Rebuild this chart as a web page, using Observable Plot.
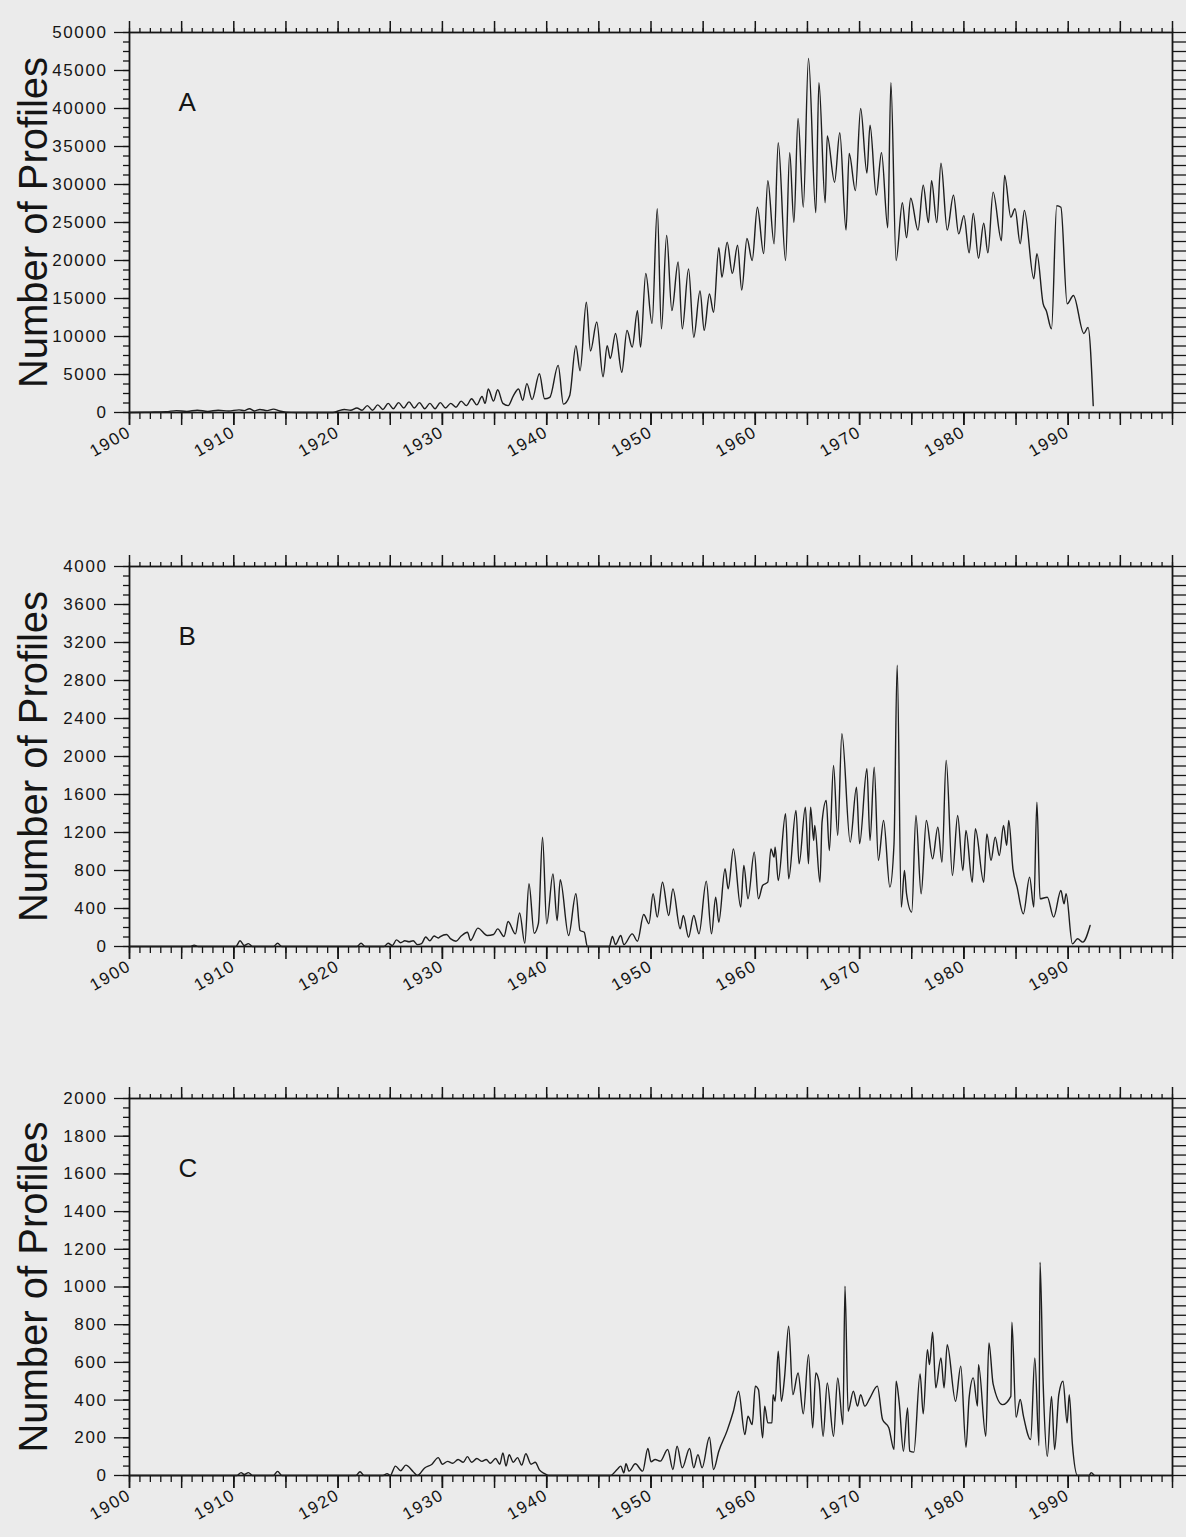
<!DOCTYPE html>
<html>
<head>
<meta charset="utf-8">
<script src="https://cdn.jsdelivr.net/npm/d3@7"></script>
<script src="https://cdn.jsdelivr.net/npm/@observablehq/plot@0.6"></script>
<style>
  html, body { margin: 0; padding: 0; background: #ebebeb; }
  #chart { width: 1186px; }
  #chart svg { display: block; }
  [aria-label$="tick label"] { letter-spacing: 1.6px; }
</style>
</head>
<body>
<div id="chart"></div>
<script>
// ---------- Panel A ----------
const yearsA = [1900,1902,1903.5,1904.5,1905.5,1906.5,1907.5,1908.5,1909.5,1910.5,1911,1911.5,1912,1912.5,1913.2,1913.8,1914.4,1915,1916,1919.5,1920,1920.6,1921.2,1921.8,1922.3,1922.8,1923.3,1923.8,1924.3,1924.8,1925.3,1925.8,1926.3,1926.8,1927.3,1927.8,1928.3,1928.8,1929.3,1929.8,1930.3,1930.8,1931.3,1931.8,1932.3,1932.8,1933.3,1933.8,1934.1,1934.4,1934.9,1935.3,1935.8,1936.3,1936.8,1937.3,1937.7,1938.1,1938.6,1939.3,1939.8,1940.3,1941.1,1941.6,1942.2,1942.8,1943.2,1943.8,1944.2,1944.8,1945.4,1945.8,1946.1,1946.6,1947.2,1947.7,1948.2,1948.7,1949.0,1949.5,1950.1,1950.6,1951.0,1951.5,1952.0,1952.6,1953.0,1953.6,1954.1,1954.7,1955.1,1955.6,1956.0,1956.5,1956.8,1957.3,1957.8,1958.3,1958.7,1959.2,1959.7,1960.2,1960.8,1961.2,1961.8,1962.2,1962.9,1963.3,1963.7,1964.1,1964.6,1965.1,1965.8,1966.1,1966.7,1966.9,1967.6,1968.1,1968.7,1969.0,1969.6,1970.1,1970.7,1971.0,1971.6,1972.1,1972.7,1973.0,1973.5,1974.1,1974.5,1974.9,1975.6,1976.1,1976.6,1976.9,1977.4,1977.8,1978.4,1979.0,1979.5,1980.0,1980.5,1980.9,1981.4,1981.9,1982.3,1982.8,1983.6,1983.9,1984.5,1984.9,1985.4,1985.8,1986.7,1987.0,1987.6,1987.9,1988.4,1988.9,1989.3,1989.9,1990.5,1991.5,1991.9,1992.4];
const countsA = [0,50,100,250,150,300,150,300,200,350,250,500,200,400,250,450,200,50,0,0,200,400,300,600,300,900,300,1000,400,1200,500,1300,600,1400,600,1300,500,1200,500,1300,600,1200,700,1500,900,1800,1000,2100,1200,3100,1500,3000,1200,900,2200,3100,1600,3800,1700,5100,1800,2000,6200,1100,2200,8800,5500,14500,8100,11900,4700,8800,7100,10400,5300,10800,8600,13400,8600,18300,11700,26800,11000,23300,13400,19800,11000,18900,9900,16000,10800,15600,13200,21700,17800,22400,18300,22000,16100,22900,20000,27000,20900,30500,22200,35500,20000,34200,25000,38700,27000,46600,26300,43400,27600,36400,30300,36800,24000,34100,29200,40000,31500,37800,28600,34200,24300,43400,20000,27600,23000,28200,24000,29900,25000,30500,25000,32800,24000,28600,23500,25900,21000,26200,20300,24900,21000,29000,22600,31200,25700,26800,22200,26600,17600,20900,14300,13400,11000,27200,27000,14300,15400,10400,11200,900];
const yLabelsA = [0,5000,10000,15000,20000,25000,30000,35000,40000,45000,50000];

// ---------- Panel B ----------
const yearsB = [1900,1905.8,1906.2,1906.6,1910.2,1910.6,1911.0,1911.4,1911.8,1913.8,1914.2,1914.6,1921.8,1922.2,1922.6,1924.4,1924.8,1925.2,1925.6,1926.0,1926.4,1926.8,1927.2,1927.6,1928.0,1928.4,1928.8,1929.2,1929.6,1929.8,1930.4,1930.8,1931.3,1931.8,1932.4,1932.7,1933.4,1934.3,1934.9,1935.3,1935.9,1936.3,1937.0,1937.4,1937.9,1938.3,1938.8,1939.2,1939.6,1940.0,1940.6,1941.0,1941.3,1942.1,1942.8,1943.2,1943.6,1943.9,1946.0,1946.3,1946.6,1947.1,1947.4,1948.2,1948.7,1949.3,1949.8,1950.2,1950.6,1951.1,1951.7,1952.1,1952.8,1953.1,1953.6,1954.1,1954.6,1955.3,1955.8,1956.2,1956.5,1957.1,1957.4,1957.9,1958.6,1958.9,1959.3,1959.9,1960.3,1960.7,1961.2,1961.5,1961.8,1961.9,1962.2,1962.9,1963.2,1963.9,1964.2,1964.8,1965.1,1965.3,1965.6,1965.7,1966.2,1966.4,1966.8,1967.1,1967.5,1967.9,1968.3,1969.1,1969.7,1970.0,1970.7,1971.0,1971.4,1971.8,1972.3,1972.9,1973.3,1973.6,1974.0,1974.3,1974.5,1975.0,1975.4,1975.9,1976.4,1977.0,1977.5,1977.9,1978.3,1978.9,1979.4,1979.9,1980.2,1980.8,1981.1,1981.9,1982.2,1982.6,1983.0,1983.4,1983.8,1984.1,1984.3,1984.7,1985.1,1985.7,1986.3,1986.7,1987.0,1987.3,1988.0,1988.6,1989.3,1989.6,1989.8,1990.4,1990.9,1991.4,1992.1];
const countsB = [0,0,15,0,0,60,10,30,0,0,35,0,0,35,0,0,35,10,70,40,60,50,60,20,30,100,60,110,90,105,126,80,56,110,150,63,193,116,126,186,105,263,133,354,35,660,140,240,1150,240,765,274,702,116,555,168,150,0,0,105,20,116,20,133,56,337,240,555,309,677,326,607,186,326,98,326,133,688,133,519,256,818,607,1028,414,853,502,993,502,642,677,1028,941,1046,695,1397,712,1432,870,1467,870,1467,1116,1274,677,1309,1537,1011,1906,1169,2239,1099,1678,1081,1871,1116,1888,906,1327,625,1081,2960,414,800,555,362,1379,555,1327,923,1257,888,1959,748,1379,800,1221,677,1239,677,1186,906,1151,958,1274,1064,1327,818,625,344,730,414,1520,502,519,309,590,449,555,28,81,46,221];
const yLabelsB = [0,400,800,1200,1600,2000,2400,2800,3200,3600,4000];

// ---------- Panel C ----------
const yearsC = [1900,1910.3,1910.7,1911.0,1911.4,1911.8,1913.8,1914.2,1914.6,1921.7,1922.1,1922.5,1924.3,1924.7,1925.0,1925.5,1926.0,1926.5,1927.2,1927.6,1928.3,1929.0,1929.6,1930.0,1930.5,1931.0,1931.5,1932.0,1932.4,1932.8,1933.3,1933.8,1934.2,1934.6,1935.1,1935.5,1935.8,1936.1,1936.4,1936.8,1937.2,1937.6,1938.0,1938.5,1938.9,1939.3,1939.8,1940.2,1946.1,1946.8,1947.1,1947.4,1947.6,1947.9,1948.5,1949.2,1949.7,1950.0,1950.4,1950.9,1951.6,1952.1,1952.5,1953.0,1953.7,1954.1,1954.5,1954.9,1955.6,1956.0,1956.5,1957.3,1957.9,1958.4,1959.0,1959.3,1959.7,1960.0,1960.3,1960.7,1960.9,1961.2,1961.6,1961.7,1961.9,1962.2,1962.5,1962.8,1963.2,1963.6,1964.1,1964.6,1965.1,1965.5,1965.8,1966.1,1966.5,1966.9,1967.5,1967.9,1968.4,1968.6,1968.9,1969.4,1969.8,1970.1,1970.5,1971.0,1971.7,1972.2,1972.8,1973.3,1973.5,1973.8,1974.2,1974.6,1974.8,1975.2,1975.8,1976.1,1976.5,1976.7,1977.0,1977.3,1977.8,1978.1,1978.4,1979.2,1979.7,1980.2,1980.5,1980.9,1981.3,1981.4,1982.1,1982.4,1982.8,1983.7,1984.5,1984.6,1985.0,1985.4,1985.7,1986.4,1986.8,1987.2,1987.3,1987.6,1988.0,1988.4,1988.7,1989.1,1989.5,1989.9,1990.1,1990.4,1990.9,1992.0,1992.2,1992.5];
const countsC = [0,0,15,5,15,0,0,22,0,0,20,0,0,10,0,50,25,55,20,0,40,60,95,60,75,65,85,70,100,70,90,75,85,65,90,60,120,50,110,70,95,55,115,60,70,30,10,0,0,35,50,14,62,23,62,23,143,73,85,76,138,32,155,41,143,41,111,41,203,32,129,238,341,447,217,314,270,474,456,200,368,279,279,429,394,659,394,518,792,429,544,327,641,253,544,500,208,491,208,518,270,1004,341,447,368,429,368,412,474,297,253,138,500,385,129,359,129,124,539,327,668,588,760,465,624,465,694,394,580,150,412,518,368,588,208,703,486,376,420,813,309,403,318,191,624,159,1131,486,102,420,138,429,500,279,429,168,0,0,15,0];
const yLabelsC = [0,200,400,600,800,1000,1200,1400,1600,1800,2000];

// ---------- shared x axis labels ----------
const decadeLabels = [1900,1910,1920,1930,1940,1950,1960,1970,1980,1990];

const panels = [
  {letter: "A", years: yearsA, counts: countsA, labels: yLabelsA, height: 500, marginTop: 32, marginBottom: 88},
  {letter: "B", years: yearsB, counts: countsB, labels: yLabelsB, height: 533, marginTop: 66, marginBottom: 87},
  {letter: "C", years: yearsC, counts: countsC, labels: yLabelsC, height: 504, marginTop: 65, marginBottom: 62}
];

const fontFamily = "'Liberation Sans', Arial, Helvetica, sans-serif";
const ink = "#151515";
const fmt = d3.format("d");
const blank = () => "";
const yearTicks = d3.range(1900, 2001, 1);
const fiveYearTicks = d3.range(1900, 2001, 5);

const chart = document.getElementById("chart");

for (const p of panels) {
  const rows = p.years.map((y, i) => ({year: y, count: p.counts[i]}));
  const yMax = p.labels[p.labels.length - 1];
  const labelStep = p.labels[1] - p.labels[0];
  const minorY = d3.range(0, yMax + labelStep / 8, labelStep / 4);

  const svg = Plot.plot({
    width: 1186,
    height: p.height,
    marginLeft: 129,
    marginRight: 14,
    marginTop: p.marginTop,
    marginBottom: p.marginBottom,
    style: {background: "transparent", fontFamily, color: ink, overflow: "visible"},
    x: {domain: [1900, 2000], label: null},
    y: {domain: [0, yMax], label: null},
    marks: [
      // top ticks (pointing up)
      Plot.axisX(yearTicks, {anchor: "top", tickSize: 5, tickFormat: blank, label: null, strokeWidth: 1.3}),
      Plot.axisX(fiveYearTicks, {anchor: "top", tickSize: 12, tickFormat: blank, label: null, strokeWidth: 1.5}),
      // bottom ticks (pointing down) with rotated decade labels
      Plot.axisX(yearTicks, {anchor: "bottom", tickSize: 7, tickFormat: blank, label: null, strokeWidth: 1.3}),
      Plot.axisX(fiveYearTicks, {anchor: "bottom", tickSize: 13, tickFormat: blank, label: null, strokeWidth: 1.5}),
      Plot.axisX(decadeLabels, {anchor: "bottom", tickSize: 13, tickPadding: 5, tickRotate: -30, tickFormat: fmt, label: null, fontSize: 17, strokeWidth: 1.5}),
      // left ticks
      Plot.axisY(minorY, {anchor: "left", tickSize: 6, tickFormat: blank, label: null, strokeWidth: 1.3}),
      Plot.axisY(p.labels, {anchor: "left", tickSize: 15, tickPadding: 7, tickFormat: fmt, label: null, fontSize: 17, strokeWidth: 1.3}),
      // right ticks (pointing outward)
      Plot.axisY(minorY, {anchor: "right", tickSize: 13, tickFormat: blank, label: null, strokeWidth: 1.3}),
      Plot.frame({stroke: ink, strokeWidth: 1.8}),
      Plot.line(rows, {x: "year", y: "count", stroke: "#1e1e1e", strokeWidth: 1.4, curve: "monotone-x"}),
      Plot.text([p.letter], {frameAnchor: "top-left", dx: 49, dy: 60, textAnchor: "start", lineAnchor: "top", fontSize: 26, fill: ink}),
      Plot.text(["Number of Profiles"], {frameAnchor: "left", rotate: -90, dx: -83, lineAnchor: "bottom", textAnchor: "middle", fontSize: 40, fill: ink})
    ]
  });
  chart.appendChild(svg);
}
</script>
</body>
</html>
